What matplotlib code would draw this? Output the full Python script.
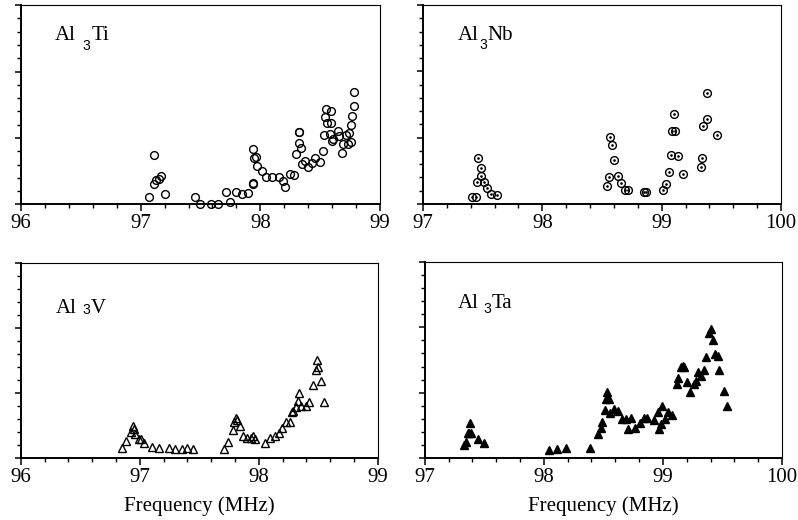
import matplotlib
matplotlib.use("Agg")
from matplotlib import pyplot as plt
from matplotlib.ticker import MultipleLocator

plt.rcParams['font.family'] = ['Liberation Serif', 'DejaVu Serif']

# Al3Ti (open circles)
ti_freq = [97.068, 97.11, 97.115, 97.126, 97.15, 97.17, 97.20, 97.45, 97.50, 97.59,
           97.645, 97.71, 97.75, 97.80, 97.85, 97.90, 97.935, 97.94, 97.94, 97.945,
           97.96, 97.97, 98.01, 98.05, 98.10, 98.16, 98.19, 98.21, 98.25, 98.28,
           98.30, 98.32, 98.325, 98.32, 98.34, 98.345, 98.37, 98.40, 98.43, 98.46,
           98.50, 98.52, 98.53, 98.54, 98.55, 98.56, 98.58, 98.59, 98.59, 98.60,
           98.61, 98.645, 98.66, 98.68, 98.69, 98.72, 98.73, 98.74, 98.755, 98.76,
           98.77, 98.78, 98.78]
ti_amp = [0.115, 0.305, 0.75, 0.365, 0.38, 0.435, 0.155, 0.115, 0.0, 0.0,
          0.0, 0.185, 0.035, 0.185, 0.155, 0.175, 0.315, 0.33, 0.84, 0.705,
          0.715, 0.58, 0.50, 0.415, 0.415, 0.415, 0.36, 0.265, 0.46, 0.44,
          0.765, 1.085, 1.085, 0.925, 0.855, 0.615, 0.65, 0.565, 0.625, 0.70,
          0.645, 0.805, 1.045, 1.315, 1.44, 1.225, 1.065, 1.405, 1.225, 0.95,
          0.99, 1.10, 1.03, 0.775, 0.915, 1.04, 0.905, 1.075, 0.945, 1.19,
          1.325, 1.69, 1.475]

# Al3Nb (dotted circles)
nb_freq = [97.41, 97.44, 97.46, 97.485, 97.49, 97.45, 97.51, 97.54, 97.57, 97.62,
           98.54, 98.56, 98.57, 98.58, 98.60, 98.63, 98.66, 98.69, 98.72, 98.85,
           98.87, 99.01, 99.04, 99.06, 99.08, 99.085, 99.10, 99.11, 99.135, 99.18,
           99.33, 99.34, 99.35, 99.38, 99.38, 99.46]
nb_amp = [0.107, 0.107, 0.70, 0.55, 0.42, 0.33, 0.33, 0.245, 0.157, 0.142,
          0.264, 0.41, 1.015, 0.89, 0.665, 0.42, 0.32, 0.213, 0.213, 0.178,
          0.178, 0.213, 0.305, 0.477, 0.736, 1.107, 1.35, 1.107, 0.72, 0.457,
          0.558, 0.69, 1.178, 1.675, 1.28, 1.035]

# Al3V (open triangles)
v_freq = [96.85, 96.885, 96.925, 96.94, 96.95, 96.96, 96.99, 97.01, 97.035, 97.10,
          97.16, 97.25, 97.30, 97.355, 97.40, 97.45, 97.71, 97.74, 97.78, 97.795,
          97.81, 97.82, 97.84, 97.865, 97.905, 97.935, 97.95, 97.97, 98.05, 98.095,
          98.14, 98.17, 98.195, 98.23, 98.26, 98.28, 98.29, 98.31, 98.33, 98.34,
          98.355, 98.395, 98.425, 98.46, 98.48, 98.49, 98.50, 98.52, 98.545]
v_amp = [0.16, 0.263, 0.405, 0.496, 0.446, 0.37, 0.294, 0.29, 0.228, 0.177,
         0.162, 0.162, 0.142, 0.142, 0.162, 0.142, 0.142, 0.243, 0.43, 0.557,
         0.618, 0.58, 0.496, 0.344, 0.314, 0.314, 0.344, 0.294, 0.228, 0.319,
         0.34, 0.395, 0.47, 0.557, 0.557, 0.709, 0.72, 0.785, 0.886, 0.997,
         0.80, 0.80, 0.87, 1.124, 1.357, 1.504, 1.40, 1.19, 0.86]

# Al3Ta (filled triangles)
ta_freq = [97.33, 97.345, 97.36, 97.37, 97.38, 97.385, 97.45, 97.50, 98.04, 98.11,
           98.185, 98.39, 98.455, 98.48, 98.49, 98.51, 98.525, 98.53, 98.545, 98.555,
           98.59, 98.62, 98.655, 98.69, 98.71, 98.735, 98.765, 98.805, 98.84, 98.87,
           98.925, 98.955, 98.965, 98.985, 98.995, 99.02, 99.045, 99.08, 99.115, 99.125,
           99.15, 99.165, 99.18, 99.20, 99.23, 99.26, 99.28, 99.295, 99.32, 99.345,
           99.36, 99.385, 99.405, 99.42, 99.435, 99.46, 99.475, 99.515, 99.54]
ta_amp = [0.204, 0.255, 0.39, 0.39, 0.546, 0.39, 0.296, 0.24, 0.128, 0.143,
          0.163, 0.163, 0.372, 0.459, 0.561, 0.73, 0.903, 1.015, 0.908, 0.689,
          0.75, 0.724, 0.60, 0.60, 0.444, 0.612, 0.469, 0.536, 0.622, 0.622,
          0.577, 0.699, 0.444, 0.526, 0.80, 0.60, 0.714, 0.658, 1.133, 1.224,
          1.393, 1.403, 1.393, 1.168, 1.005, 1.133, 1.173, 1.316, 1.26, 1.352,
          1.541, 1.913, 1.974, 1.801, 1.587, 1.566, 1.342, 1.02, 0.80]

W, H = 798, 520
fig = plt.figure(figsize=(W / 100, H / 100), dpi=100)


def make_axes(left, top, right, bottom, xlim, xticks):
    # pixel box -> figure fraction
    ax = fig.add_axes([left / W, 1 - bottom / H, (right - left) / W, (bottom - top) / H])
    ax.set_xlim(*xlim)
    ax.set_ylim(0, 3)
    ax.set_xticks(xticks)
    ax.set_xticklabels([str(t) for t in xticks])
    ax.xaxis.set_minor_locator(MultipleLocator(0.2))
    ax.set_yticks([0, 1, 2, 3])
    ax.yaxis.set_minor_locator(MultipleLocator(0.2))
    ax.set_yticklabels([])
    ax.tick_params(axis='x', which='major', direction='out', length=5, width=1.1,
                   labelsize=15, pad=2)
    ax.tick_params(axis='x', which='minor', direction='out', length=3, width=1.0)
    ax.tick_params(axis='y', which='major', direction='out', length=4.5, width=1.1)
    ax.tick_params(axis='y', which='minor', direction='out', length=3, width=1.0)
    ax.spines['left'].set_linewidth(1.4)
    ax.spines['bottom'].set_linewidth(1.4)
    ax.spines['top'].set_linewidth(0.8)
    ax.spines['right'].set_linewidth(0.8)
    return ax


def compound_label(ax, corner, elem, al_pos, sub_pos, elem_pos):
    # positions are image pixels (x, baseline y); corner is the axes top-left pixel
    cx, cy = corner
    for txt, (px, py), size, fam in [('Al', al_pos, 15, 'Liberation Serif'),
                                     ('3', sub_pos, 10, 'Liberation Sans'),
                                     (elem, elem_pos, 15, 'Liberation Serif')]:
        ax.annotate(txt, xy=(0, 1), xycoords='axes fraction',
                    xytext=(px - cx, cy - py), textcoords='offset pixels',
                    ha='left', va='baseline', fontsize=size, family=fam)


ax1 = make_axes(21, 5, 380, 204.5, (96, 99), [96, 97, 98, 99])
ax1.plot(ti_freq, ti_amp, 'o', ms=5.6, mfc='none', mec='black', mew=1.0, clip_on=False)
compound_label(ax1, (21, 5), 'Ti', (55, 40), (82, 50), (92, 40))

ax2 = make_axes(423, 5, 781, 204, (97, 100), [97, 98, 99, 100])
ax2.plot(nb_freq, nb_amp, 'o', ms=5.6, mfc='none', mec='black', mew=1.0, clip_on=False)
ax2.plot(nb_freq, nb_amp, '.', ms=1.8, color='black', clip_on=False)
compound_label(ax2, (423, 5), 'Nb', (458, 40), (479, 49), (487, 40))

ax3 = make_axes(20.7, 262.7, 377.7, 458.3, (96, 99), [96, 97, 98, 99])
ax3.plot(v_freq, v_amp, '^', ms=5.6, mfc='none', mec='black', mew=1.0, clip_on=False)
compound_label(ax3, (20.7, 262.7), 'V', (56, 313), (82, 314), (91, 313))

ax4 = make_axes(424.7, 261.7, 782, 458.3, (97, 100), [97, 98, 99, 100])
ax4.plot(ta_freq, ta_amp, '^', ms=5.6, color='black', clip_on=False)
compound_label(ax4, (424.7, 261.7), 'Ta', (458, 308), (483, 313), (492, 308))

for ax in (ax3, ax4):
    ax.set_xlabel('Frequency (MHz)', fontsize=15)
    ax.xaxis.set_label_coords(0.5, -0.195)

fig.savefig('out.png', dpi=100)
